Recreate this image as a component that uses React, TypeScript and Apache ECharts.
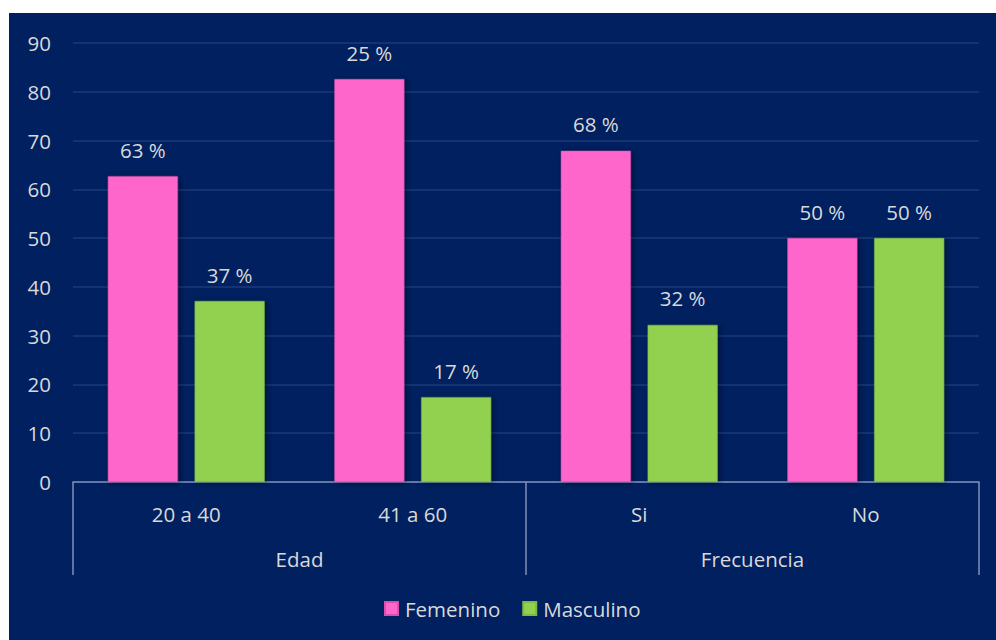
import React, { useEffect, useRef } from "react";
import * as echarts from "echarts";

const categories = ["20 a 40", "41 a 60", "Si", "No"];
const groups = ["Edad", "Frecuencia"];
const femenino = [62.7, 82.6, 67.9, 50];
const masculino = [37.1, 17.4, 32.2, 50];
const femeninoLabels = ["63 %", "25 %", "68 %", "50 %"];
const masculinoLabels = ["37 %", "17 %", "32 %", "50 %"];
const yTicks = [0, 10, 20, 30, 40, 50, 60, 70, 80, 90];

const FONT = "'Open Sans', sans-serif";
const FS = 20.5;
const TXT = "#d9d9d9";
const AXIS = "#8190b8";

export default function App() {
  const ref = useRef<HTMLDivElement>(null);
  useEffect(() => {
    document.body.style.margin = "0";
    const chart = echarts.init(ref.current!, null, { renderer: "svg" });
    const barLabel = (labels: string[]) => ({
      show: true,
      position: "top" as const,
      distance: 16,
      color: TXT,
      fontFamily: FONT,
      fontSize: FS,
      formatter: (p: any) => labels[p.dataIndex],
    });
    const shadow = {
      shadowColor: "rgba(0,0,0,0.45)",
      shadowBlur: 6,
      shadowOffsetX: 2,
      shadowOffsetY: 1,
    };
    chart.setOption({
      animation: false,
      backgroundColor: "#ffffff",
      graphic: [
        {
          type: "rect",
          z: -10,
          shape: { x: 9, y: 13, width: 987, height: 627 },
          style: { fill: "#002060" },
        },
      ],
      textStyle: { fontFamily: FONT },
      legend: {
        data: ["Femenino", "Masculino"],
        bottom: 16,
        left: 379,
        itemWidth: 13,
        itemHeight: 13,
        itemGap: 22,
        icon: "rect",
        textStyle: { color: TXT, fontSize: FS, fontFamily: FONT, padding: [0, 0, 0, 2] },
      },
      grid: { left: 73, right: 17, top: 43, bottom: 158, containLabel: false },
      xAxis: [
        {
          type: "category",
          data: categories,
          position: "bottom",
          axisLine: { show: true, lineStyle: { color: AXIS, width: 1.5 } },
          axisTick: {
            show: true,
            length: 93,
            interval: (i: number) => i % 2 === 0,
            lineStyle: { color: AXIS, width: 1.5 },
          },
          axisLabel: { color: TXT, fontSize: FS, fontFamily: FONT, margin: 21 },
        },
        {
          type: "category",
          data: groups,
          position: "bottom",
          axisLine: { show: false },
          axisTick: { show: false },
          axisLabel: { color: TXT, fontSize: FS, fontFamily: FONT, margin: 66 },
        },
      ],
      yAxis: {
        type: "value",
        min: yTicks[0],
        max: yTicks[yTicks.length - 1],
        interval: 10,
        axisLine: { show: false },
        axisTick: { show: false },
        axisLabel: { color: TXT, fontSize: FS, fontFamily: FONT, margin: 22 },
        splitLine: { lineStyle: { color: "#1d3a78", width: 1.5 } },
      },
      series: [
        {
          name: "Femenino",
          type: "bar",
          xAxisIndex: 0,
          data: femenino,
          barWidth: 70,
          barGap: "24%",
          itemStyle: { color: "#ff66cc", borderColor: "#d94fae", borderWidth: 0.5, ...shadow },
          label: barLabel(femeninoLabels),
        },
        {
          name: "Masculino",
          type: "bar",
          xAxisIndex: 0,
          data: masculino,
          barWidth: 70,
          barGap: "24%",
          itemStyle: { color: "#92d050", borderColor: "#7fb845", borderWidth: 0.5, ...shadow },
          label: barLabel(masculinoLabels),
        },
      ],
    });
    return () => chart.dispose();
  }, []);
  return (
    <div
      ref={ref}
      style={{ position: "fixed", left: 0, top: 0, width: 996, height: 640 }}
    />
  );
}
